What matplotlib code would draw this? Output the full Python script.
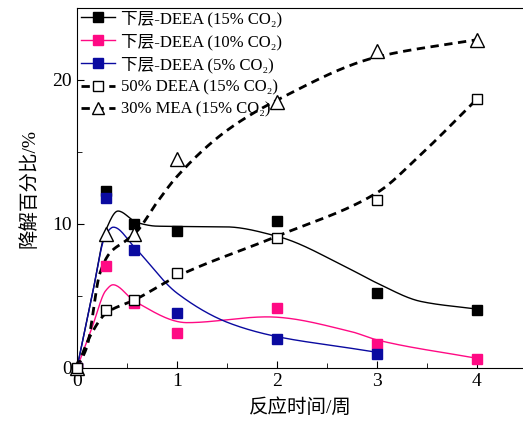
import numpy as np
import matplotlib
matplotlib.use("Agg")
import matplotlib.pyplot as plt
from matplotlib.lines import Line2D
from matplotlib.ticker import MultipleLocator

plt.rcParams["font.family"] = ["Liberation Serif", "Noto Sans CJK SC"]

# ---- measured points (time in weeks, degradation in %) ----
weeks = [0, 2 / 7, 4 / 7, 1, 2, 3, 4]
deea15 = [0, 12.3, 10.0, 9.5, 10.2, 5.2, 4.0]
deea10 = [0, 7.1, 4.5, 2.4, 4.2, 1.7, 0.6]
deea5 = [0, 11.8, 8.2, 3.8, 2.0, 1.0]
deea50 = [0, 4.0, 4.7, 6.6, 9.0, 11.7, 18.7]
mea30 = [0, 9.3, 9.3, 14.5, 18.5, 22.0, 22.8]

# ---- fitted curves at a few knots ----
fit15_x = [0, 0.15, 0.29, 0.41, 0.6, 0.8, 1.5, 2.0, 2.74, 3.0, 3.44, 4.0]
fit15_y = [0, 5.0, 9.6, 10.9, 10.1, 9.85, 9.8, 9.15, 6.83, 5.9, 4.62, 4.09]
fit10_x = [0, 0.15, 0.29, 0.36, 0.58, 1.1, 1.9, 2.74, 3.0, 4.0]
fit10_y = [0, 2.8, 5.4, 5.78, 4.62, 3.15, 3.55, 2.53, 1.95, 0.67]
fit5_x = [0, 0.15, 0.29, 0.364, 0.58, 1.0, 1.53, 2.0, 2.74, 3.0]
fit5_y = [0, 5.0, 9.3, 9.78, 8.34, 5.2, 3.1, 2.18, 1.37, 1.09]
fit50_x = [0, 0.13, 0.29, 0.58, 1.0, 2.0, 3.0, 3.44, 4.0]
fit50_y = [0, 2.2, 3.8, 4.74, 6.36, 9.15, 12.17, 14.84, 18.68]
fitmea_x = [0, 0.1, 0.23, 0.33, 0.5, 0.6, 0.8, 1.0, 1.5, 2.0, 3.0, 4.0]
fitmea_y = [0, 1.5, 6.6, 8.0, 8.9, 9.5, 11.5, 13.3, 16.5, 18.6, 21.6, 22.8]

labels = ["下层-DEEA (15% CO₂)", "下层-DEEA (10% CO₂)", "下层-DEEA (5% CO₂)",
          "50% DEEA (15% CO₂)", "30% MEA (15% CO₂)"]
MAGENTA = "#ff0a84"
BLUE = "#0a0aa0"


def smooth(kx, ky, n=400):
    """monotone (PCHIP) cubic through the knots - no overshoot between them"""
    x = np.asarray(kx, float); y = np.asarray(ky, float)
    h = np.diff(x); d = np.diff(y) / h
    m = np.zeros_like(y)
    for i in range(1, len(x) - 1):
        if d[i - 1] * d[i] > 0:
            w1 = 2 * h[i] + h[i - 1]; w2 = h[i] + 2 * h[i - 1]
            m[i] = (w1 + w2) / (w1 / d[i - 1] + w2 / d[i])
    m[0] = d[0]; m[-1] = d[-1]
    xs = np.linspace(x[0], x[-1], n)
    k = np.clip(np.searchsorted(x, xs) - 1, 0, len(x) - 2)
    t = (xs - x[k]) / h[k]
    h00 = 2 * t ** 3 - 3 * t ** 2 + 1; h10 = t ** 3 - 2 * t ** 2 + t
    h01 = -2 * t ** 3 + 3 * t ** 2; h11 = t ** 3 - t ** 2
    ys = h00 * y[k] + h10 * h[k] * m[k] + h01 * y[k + 1] + h11 * h[k] * m[k + 1]
    return xs, ys


fig = plt.figure(figsize=(5.23, 4.28), dpi=100)
ax = fig.add_axes([77 / 523, 1 - 368 / 428, 1 - 77 / 523, 360 / 428])

ax.plot(*smooth(fit15_x, fit15_y), color="black", lw=1)
ax.plot(*smooth(fit10_x, fit10_y), color=MAGENTA, lw=1)
ax.plot(*smooth(fit5_x, fit5_y), color=BLUE, lw=1)
ax.plot(*smooth(fit50_x, fit50_y), color="black", lw=2, ls=(0, (3, 2)))
ax.plot(*smooth(fitmea_x, fitmea_y), color="black", lw=2, ls=(0, (3, 2)))

ax.plot(weeks, deea15, "s", color="black", ms=7, ls="none")
ax.plot(weeks, deea10, "s", color=MAGENTA, ms=7, ls="none")
ax.plot(weeks[:len(deea5)], deea5, "s", color=BLUE, ms=7, ls="none")
ax.plot(weeks, mea30, "^", mfc="white", mec="black", mew=1, ms=10, ls="none", clip_on=False)
ax.plot(weeks, deea50, "s", mfc="white", mec="black", mew=1, ms=7, ls="none", clip_on=False, zorder=5)

handles = [
    Line2D([], [], color="black", lw=1, marker="s", ms=7),
    Line2D([], [], color=MAGENTA, lw=1, marker="s", ms=7),
    Line2D([], [], color=BLUE, lw=1, marker="s", ms=7),
    Line2D([], [], color="black", lw=2, ls=(0, (3, 2)), marker="s", ms=7, mfc="white"),
    Line2D([], [], color="black", lw=2, ls=(0, (3, 2)), marker="^", ms=9, mfc="white"),
]
ax.legend(handles, labels, loc="upper left", bbox_to_anchor=(-0.02, 1.03), frameon=False,
          fontsize=12, labelspacing=0.38, handlelength=2.0, handletextpad=0.35, borderpad=0.3)

ax.set_xlim(0, 4.46)
ax.set_ylim(0, 25)
ax.xaxis.set_major_locator(MultipleLocator(1))
ax.xaxis.set_minor_locator(MultipleLocator(0.5))
ax.yaxis.set_major_locator(MultipleLocator(10))
ax.yaxis.set_minor_locator(MultipleLocator(5))
ax.tick_params(which="both", direction="in", labelsize=14, top=False, right=False)
ax.tick_params(which="major", length=5)
ax.tick_params(which="minor", length=3.5)
ax.spines["right"].set_visible(False)
ax.set_xlabel("反应时间/周", fontsize=14, labelpad=6)
ax.set_ylabel("降解百分比/%", fontsize=14, labelpad=10)

fig.savefig("out.png", dpi=100)
